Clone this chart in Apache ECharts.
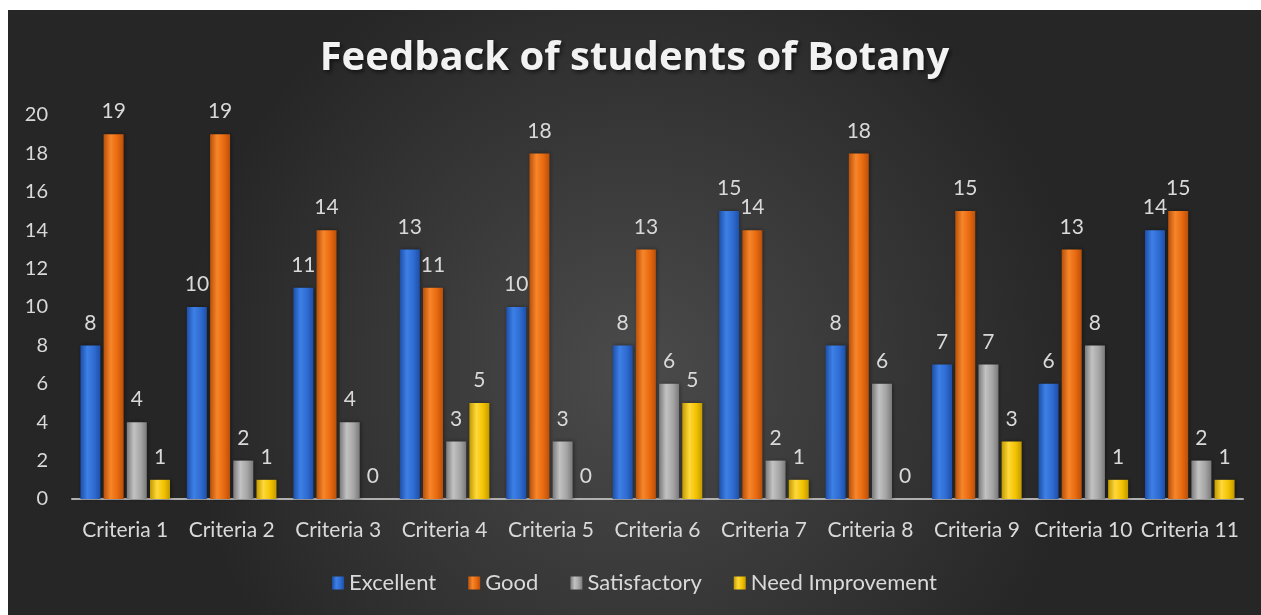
<!DOCTYPE html>
<html>
<head>
<meta charset="utf-8">
<script src="https://cdn.jsdelivr.net/npm/echarts@6/dist/echarts.min.js"></script>
<style>
  html, body { margin: 0; padding: 0; background: #fff; }
  #main { position: absolute; left: 8px; top: 10px; width: 1253px; height: 605px; }
</style>
</head>
<body>
<div id="main"></div>
<script>
// data
const criteria = ['Criteria 1', 'Criteria 2', 'Criteria 3', 'Criteria 4', 'Criteria 5', 'Criteria 6',
  'Criteria 7', 'Criteria 8', 'Criteria 9', 'Criteria 10', 'Criteria 11'];
const excellent = [8, 10, 11, 13, 10, 8, 15, 8, 7, 6, 14];
const good = [19, 19, 14, 11, 18, 13, 14, 18, 15, 13, 15];
const satisfactory = [4, 2, 4, 3, 3, 6, 2, 6, 7, 8, 2];
const needImprovement = [1, 1, 0, 5, 0, 5, 1, 0, 3, 1, 1];

const font = 'Lato';
const textColor = '#d9d9d9';

// bar fill: darker on the edges, lighter in the middle
function barFill(dark, mid, light) {
  return new echarts.graphic.LinearGradient(0, 0, 1, 0, [
    { offset: 0, color: dark },
    { offset: 0.35, color: light },
    { offset: 0.7, color: mid },
    { offset: 1, color: dark }
  ]);
}

function makeSeries(name, data, colors) {
  return {
    name: name,
    type: 'bar',
    data: data,
    barWidth: 20,
    barGap: '16%',
    itemStyle: {
      color: barFill(colors[0], colors[1], colors[2]),
      shadowColor: 'rgba(0,0,0,0.4)',
      shadowBlur: 4,
      shadowOffsetX: 1
    },
    label: {
      show: true,
      position: 'top',
      distance: 12,
      color: textColor,
      fontFamily: font,
      fontSize: 21
    }
  };
}

const chart = echarts.init(document.getElementById('main'));
chart.setOption({
  backgroundColor: {
    type: 'radial', x: 0.5, y: 0.6, r: 0.75,
    colorStops: [
      { offset: 0, color: '#4b4b4b' },
      { offset: 1, color: '#262626' }
    ]
  },
  color: ['#2f6bd0', '#e8690f', '#a5a5a5', '#f2c200'],
  title: {
    text: 'Feedback of students of Botany',
    left: 'center',
    top: 24,
    textStyle: {
      color: '#f2f2f2',
      fontFamily: 'Open Sans',
      fontWeight: 'bold',
      fontSize: 40,
      textShadowColor: 'rgba(0,0,0,0.6)',
      textShadowBlur: 4,
      textShadowOffsetX: 2,
      textShadowOffsetY: 2
    }
  },
  legend: {
    bottom: 16,
    left: 'center',
    itemWidth: 12,
    itemHeight: 13,
    itemGap: 32,
    icon: 'rect',
    textStyle: { color: textColor, fontFamily: font, fontSize: 22 }
  },
  grid: { left: 64, right: 18, top: 105, bottom: 116 },
  xAxis: {
    type: 'category',
    data: criteria,
    axisLine: { lineStyle: { color: '#b0b0b0', width: 2 } },
    axisTick: { show: false },
    axisLabel: { color: textColor, fontFamily: font, fontSize: 21, margin: 21, interval: 0 }
  },
  yAxis: {
    type: 'value',
    min: 0,
    max: 20,
    interval: 2,
    splitLine: { show: false },
    axisLine: { show: false },
    axisTick: { show: false },
    axisLabel: { color: textColor, fontFamily: font, fontSize: 20, margin: 24 }
  },
  series: [
    makeSeries('Excellent', excellent, ['#1d4fa8', '#2f6bd0', '#3d80e6']),
    makeSeries('Good', good, ['#b8500a', '#e8690f', '#f7862a']),
    makeSeries('Satisfactory', satisfactory, ['#7a7a7a', '#a5a5a5', '#c2c2c2']),
    makeSeries('Need Improvement', needImprovement, ['#c29a00', '#f2c200', '#ffd83a'])
  ]
});
</script>
</body>
</html>
